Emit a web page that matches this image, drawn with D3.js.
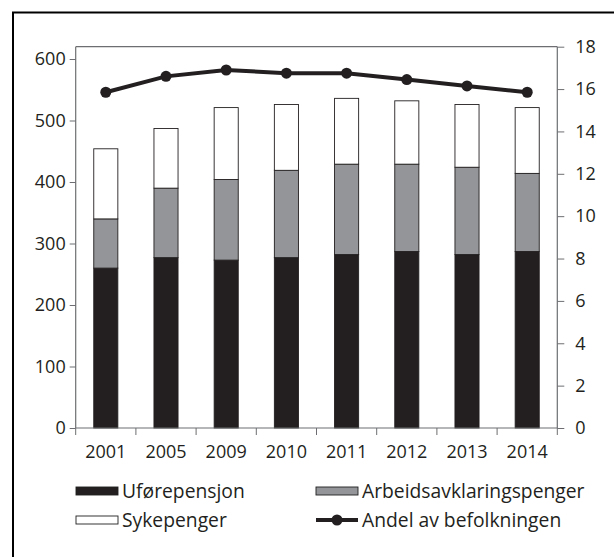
<!DOCTYPE html>
<html>
<head>
<meta charset="utf-8">
<script src="https://cdn.jsdelivr.net/npm/d3@7"></script>
<style>
  body { margin: 0; background: #fff; }
  text { font-family: "Open Sans", sans-serif; fill: #231f20; }
</style>
</head>
<body>
<div id="view"></div>
<script>
var years = ["2001", "2005", "2009", "2010", "2011", "2012", "2013", "2014"];
var uforepensjon = [260, 277, 273, 277, 282, 287, 282, 287];
var arbeidsavklaring = [80, 113, 131, 142, 147, 142, 142, 127];
var sykepenger = [114, 97, 117, 107, 107, 103, 102, 107];
var andel = [15.85, 16.6, 16.9, 16.75, 16.75, 16.45, 16.15, 15.85];
var leftTicks = [0, 100, 200, 300, 400, 500, 600];
var rightTicks = [0, 2, 4, 6, 8, 10, 12, 14, 16, 18];

var keys = ["ufore", "aap", "syke"];
var names = {ufore: "Uførepensjon", aap: "Arbeidsavklaringspenger", syke: "Sykepenger"};
var fills = {ufore: "#231f20", aap: "#939598", syke: "#ffffff"};

var table = years.map(function(y, i) {
    return {year: y, ufore: uforepensjon[i], aap: arbeidsavklaring[i], syke: sykepenger[i], andel: andel[i]};
});

var width = 614, height = 557;
var plot = {left: 75.7, right: 557.3, top: 46.7, bottom: 428};
var axisColor = "#6d6e71";

var svg = d3.select("#view")
    .append("svg")
    .attr("width", width)
    .attr("height", height);

// outer frame, cut off at right and bottom like the source
svg.append("rect")
    .attr("x", 13)
    .attr("y", 12.5)
    .attr("width", 700)
    .attr("height", 700)
    .attr("fill", "none")
    .attr("stroke", "#000")
    .attr("stroke-width", 2);

var x = d3.scaleBand()
    .domain(years)
    .range([plot.left, plot.right])
    .paddingInner(0.6)
    .paddingOuter(0.3);

var y = d3.scaleLinear()
    .domain([0, 620])
    .range([plot.bottom, plot.top]);

var y2 = d3.scaleLinear()
    .domain([0, 18])
    .range([plot.bottom, plot.top]);

// plot frame: top line
svg.append("line")
    .attr("x1", plot.left).attr("x2", plot.right)
    .attr("y1", plot.top).attr("y2", plot.top)
    .attr("stroke", axisColor)
    .attr("stroke-width", 1.2);

var series = d3.stack().keys(keys)(table);

svg.append("g")
    .selectAll("g")
    .data(series)
    .enter().append("g")
    .attr("fill", function(d) { return fills[d.key]; })
    .selectAll("rect")
    .data(function(d) { return d; })
    .enter().append("rect")
    .attr("x", function(d) { return x(d.data.year); })
    .attr("y", function(d) { return y(d[1]); })
    .attr("width", x.bandwidth())
    .attr("height", function(d) { return y(d[0]) - y(d[1]); })
    .attr("stroke", "#231f20")
    .attr("stroke-width", 0.9);

// left axis
var gl = svg.append("g")
    .attr("transform", "translate(" + plot.left + ",0)")
    .call(d3.axisLeft(y).tickValues(leftTicks).tickSize(6).tickPadding(4).tickSizeOuter(0));
gl.select(".domain").attr("stroke", axisColor).attr("stroke-width", 1.2)
    .attr("d", "M0," + plot.top + "V" + plot.bottom);
gl.selectAll(".tick line").attr("stroke", axisColor);
gl.selectAll("text").attr("font-size", 18).attr("font-family", "Open Sans").attr("fill", "#231f20");

// right axis, labels left-aligned
var gr = svg.append("g")
    .attr("transform", "translate(" + plot.right + ",0)")
    .call(d3.axisRight(y2).tickValues(rightTicks).tickSize(7).tickPadding(11).tickSizeOuter(0));
gr.select(".domain").attr("stroke", axisColor).attr("stroke-width", 1.2)
    .attr("d", "M0," + plot.top + "V" + plot.bottom);
gr.selectAll(".tick line").attr("stroke", axisColor);
gr.selectAll("text").attr("font-size", 18).attr("font-family", "Open Sans").attr("fill", "#231f20");

// bottom axis: baseline, boundary ticks and year labels
var gb = svg.append("g");
gb.append("line")
    .attr("x1", plot.left).attr("x2", plot.right)
    .attr("y1", plot.bottom).attr("y2", plot.bottom)
    .attr("stroke", axisColor)
    .attr("stroke-width", 1.2);
var bounds = years.map(function(d) { return x(d) - x.step() * x.paddingOuter(); }).concat([plot.right]);
gb.selectAll(".bt")
    .data(bounds)
    .enter().append("line")
    .attr("class", "bt")
    .attr("x1", function(d) { return d; })
    .attr("x2", function(d) { return d; })
    .attr("y1", plot.bottom)
    .attr("y2", plot.bottom + 7)
    .attr("stroke", axisColor);
gb.selectAll(".yl")
    .data(years)
    .enter().append("text")
    .attr("class", "yl")
    .attr("x", function(d) { return x(d) + x.bandwidth() / 2; })
    .attr("y", 458)
    .attr("text-anchor", "middle")
    .attr("font-size", 18)
    .text(function(d) { return d; });

// line on right axis
var line = d3.line()
    .x(function(d) { return x(d.year) + x.bandwidth() / 2; })
    .y(function(d) { return y2(d.andel); });

svg.append("path")
    .datum(table)
    .attr("fill", "none")
    .attr("stroke", "#231f20")
    .attr("stroke-width", 4)
    .attr("d", line);

svg.append("g")
    .selectAll("circle")
    .data(table)
    .enter().append("circle")
    .attr("cx", function(d) { return x(d.year) + x.bandwidth() / 2; })
    .attr("cy", function(d) { return y2(d.andel); })
    .attr("r", 5.5)
    .attr("fill", "#231f20");

// legend
var legendItems = [
    {key: "ufore", col: 0, row: 0},
    {key: "aap", col: 1, row: 0},
    {key: "syke", col: 0, row: 1},
    {key: "line", col: 1, row: 1}
];
var colX = [76, 316], rowY = [491, 520];

var lg = svg.append("g").attr("class", "legend");
legendItems.forEach(function(it) {
    var lx = colX[it.col], ly = rowY[it.row];
    if (it.key == "line") {
        lg.append("line")
            .attr("x1", lx).attr("x2", lx + 42)
            .attr("y1", ly).attr("y2", ly)
            .attr("stroke", "#231f20")
            .attr("stroke-width", 4);
        lg.append("circle")
            .attr("cx", lx + 21).attr("cy", ly).attr("r", 5.5)
            .attr("fill", "#231f20");
    } else {
        lg.append("rect")
            .attr("x", lx).attr("y", ly - 4)
            .attr("width", 42).attr("height", 8)
            .attr("fill", fills[it.key])
            .attr("stroke", "#231f20")
            .attr("stroke-width", 0.9);
    }
    lg.append("text")
        .attr("x", lx + 46)
        .attr("y", ly + 7)
        .attr("font-size", 19.3)
        .text(it.key == "line" ? "Andel av befolkningen" : names[it.key]);
});
</script>
</body>
</html>
